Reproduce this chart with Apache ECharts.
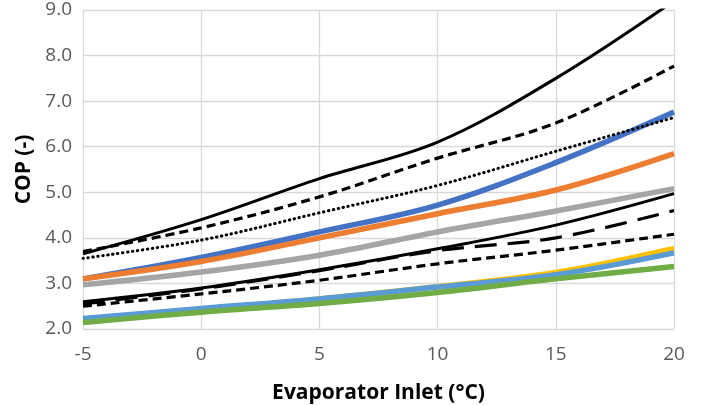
<!DOCTYPE html>
<html><head><meta charset="utf-8">
<script src="https://cdn.jsdelivr.net/npm/echarts@6/dist/echarts.min.js"></script>
<style>html,body{margin:0;padding:0;background:#fff}#c{width:703px;height:405px}</style>
</head><body><div id="c"></div>
<script>
var xValues = [-5, 0, 5, 10, 15, 20];
var yTicks = [2, 3, 4, 5, 6, 7, 8, 9];
var blueSeries = [3.1, 3.57, 4.13, 4.72, 5.65, 6.76];
var orangeSeries = [3.1, 3.48, 4.0, 4.53, 5.05, 5.85];
var graySeries = [2.97, 3.25, 3.62, 4.13, 4.59, 5.08];
var yellowSeries = [2.15, 2.42, 2.66, 2.93, 3.24, 3.77];
var lightBlueSeries = [2.23, 2.45, 2.66, 2.92, 3.19, 3.67];
var greenSeries = [2.14, 2.37, 2.56, 2.8, 3.1, 3.37];
var topSolid = [3.65, 4.4, 5.3, 6.1, 7.5, 9.2];
var topDashed = [3.7, 4.22, 4.9, 5.75, 6.52, 7.77];
var topDotted = [3.55, 3.95, 4.55, 5.15, 5.9, 6.64];
var lowSolid = [2.6, 2.9, 3.3, 3.76, 4.28, 4.97];
var lowLongDash = [2.55, 2.88, 3.28, 3.72, 4.0, 4.6];
var lowDashed = [2.5, 2.77, 3.07, 3.43, 3.73, 4.08];

function pairs(arr){ return xValues.map(function(x,i){ return [x, arr[i]]; }); }
function mk(name, arr, color, width, type){
  return {name:name, type:'line', data:pairs(arr), smooth:0.35, symbol:'none', clip:true,
    lineStyle:{color:color, width:width, type:type||'solid', cap: type && type[0]<=2 ? 'round':'butt'}};
}
var series = [
  mk('A', blueSeries, '#4472C4', 5.5),
  mk('B', orangeSeries, '#ED7D31', 5.5),
  mk('C', graySeries, '#A5A5A5', 5.5),
  mk('D', yellowSeries, '#FFC000', 5.5),
  mk('E', lightBlueSeries, '#5B9BD5', 5.5),
  mk('F', greenSeries, '#70AD47', 5.5),
  mk('G', topSolid, '#000000', 3),
  mk('H', topDashed, '#000000', 3.2, [9,5]),
  mk('I', topDotted, '#000000', 3, [0.5,4.5]),
  mk('J', lowSolid, '#000000', 3),
  mk('K', lowLongDash, '#000000', 3.2, [22,11]),
  mk('L', lowDashed, '#000000', 3.2, [9,5])
];
var chart = echarts.init(document.getElementById('c'), null, {renderer:'canvas'});
chart.setOption({
  animation:false,
  grid:{left:83, right:29, top:10, bottom:76, containLabel:false, outerBoundsMode:'none'},
  xAxis:{type:'value', min:-5, max:20, interval:5,
    name:'Evaporator Inlet (°C)', nameLocation:'middle', nameGap:54,
    nameTextStyle:{fontFamily:'Open Sans', fontWeight:'bold', fontSize:21, color:'#000'},
    axisLine:{show:false}, axisTick:{show:false},
    splitLine:{show:true, lineStyle:{color:'#D9D9D9', width:1.3}},
    axisLabel:{fontFamily:'Open Sans', fontSize:19, color:'#595959', margin:16}},
  yAxis:{type:'value', min:2, max:9, interval:1,
    name:'COP (-)', nameLocation:'middle', nameGap:47, nameRotate:90,
    nameTextStyle:{fontFamily:'Open Sans', fontWeight:'bold', fontSize:21, color:'#000'},
    axisLine:{show:false}, axisTick:{show:false},
    splitLine:{show:true, lineStyle:{color:'#D9D9D9', width:1.3}},
    axisLabel:{fontFamily:'Open Sans', fontSize:19, color:'#595959', margin:11,
      formatter:function(v){ return yTicks.indexOf(v)>=0 ? v.toFixed(1) : ''; }}},
  series:series
});
</script></body></html>
